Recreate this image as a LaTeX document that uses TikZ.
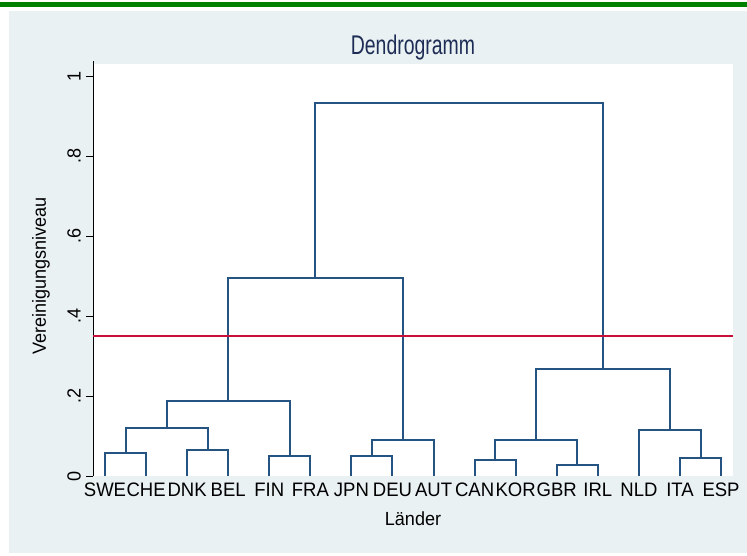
\documentclass[tikz,border=0pt]{standalone}
\usepackage{fontspec}
\setmainfont{Liberation Sans}
\newfontfamily\chartfont[FakeStretch=0.95]{Liberation Sans}
\newfontfamily\headfont[FakeStretch=0.72]{Liberation Sans}
\usepackage{tikz}
\usetikzlibrary{positioning, calc}

\definecolor{stgreen}{RGB}{0,128,0}
\definecolor{stbg}{RGB}{234,241,243}
\definecolor{stnavy}{RGB}{38,84,130}
\definecolor{sttitle}{RGB}{30,45,85}
\definecolor{stred}{RGB}{200,16,58}

% join two clusters at height #3, name the new cluster #4
\newcommand{\joinclusters}[4]{%
  \draw[link] (#1) -- (#1 |- 0,#3) -- (#2 |- 0,#3) -- (#2);
  \coordinate (#4) at ($(#1 |- 0,#3)!0.5!(#2 |- 0,#3)$);
}

\begin{document}
\begin{tikzpicture}[
    x=1pt, y=1pt,
    link/.style={draw=stnavy, line width=2pt, line join=miter},
    tick/.style={line width=0.8pt},
    ticklbl/.style={rotate=90, font=\chartfont\fontsize{19}{20}\selectfont, inner sep=0pt},
    leaflbl/.style={anchor=base, font=\chartfont\fontsize{19.5}{21}\selectfont, inner sep=0pt},
    axlbl/.style={font=\chartfont\fontsize{19}{21}\selectfont, inner sep=0pt},
]
\useasboundingbox (0,0) rectangle (747,555);

% Background
\fill[stgreen] (0,548) rectangle (747,553);
\fill[stbg] (9,2) rectangle (747,544);
\fill[white] (93,79) rectangle (733,491);

% Title
\node[font=\headfont\fontsize{27}{29}\selectfont, text=sttitle, inner sep=0pt] (title) at (413,507) {Dendrogramm};

\begin{scope}[shift={(0,79)}, y=400pt]
% Axis
\draw[tick] (93,0) -- (93,1.0375);
\foreach \v/\t in {0/0, 0.2/.2, 0.4/.4, 0.6/.6, 0.8/.8, 1/1} {
    \draw[tick] (86,\v) -- (93,\v);
    \node[ticklbl] (tick\t) at (74,\v) {\t};
}
\node[axlbl, rotate=90] (ylab) at (41,0.5) {Vereinigungsniveau};

% Leaves
\foreach \c [count=\i from 0] in {SWE,CHE,DNK,BEL,FIN,FRA,JPN,DEU,AUT,CAN,KOR,GBR,IRL,NLD,ITA,ESP} {
    \coordinate (\c) at ({105+41.07*\i},0);
    \node[leaflbl] (lab\c) at ([yshift=-20pt]\c) {\c};
}
\node[axlbl, anchor=base] (xlab) at (413,-0.1225) {Länder};

% Clusters
\joinclusters{SWE}{CHE}{0.058}{c1}
\joinclusters{DNK}{BEL}{0.066}{c2}
\joinclusters{c1}{c2}{0.119}{c3}
\joinclusters{FIN}{FRA}{0.049}{c4}
\joinclusters{c3}{c4}{0.1875}{c5}
\joinclusters{JPN}{DEU}{0.049}{c6}
\joinclusters{c6}{AUT}{0.09}{c7}
\joinclusters{c5}{c7}{0.495}{c8}
\joinclusters{CAN}{KOR}{0.039}{c9}
\joinclusters{GBR}{IRL}{0.028}{c10}
\joinclusters{c9}{c10}{0.09}{c11}
\joinclusters{ITA}{ESP}{0.045}{c12}
\joinclusters{NLD}{c12}{0.115}{c13}
\joinclusters{c11}{c13}{0.2675}{c14}
\joinclusters{c8}{c14}{0.9325}{c15}

% Cut line
\draw[stred, line width=2pt] (93,0.35) -- (733,0.35);
\end{scope}

\end{tikzpicture}
\end{document}
